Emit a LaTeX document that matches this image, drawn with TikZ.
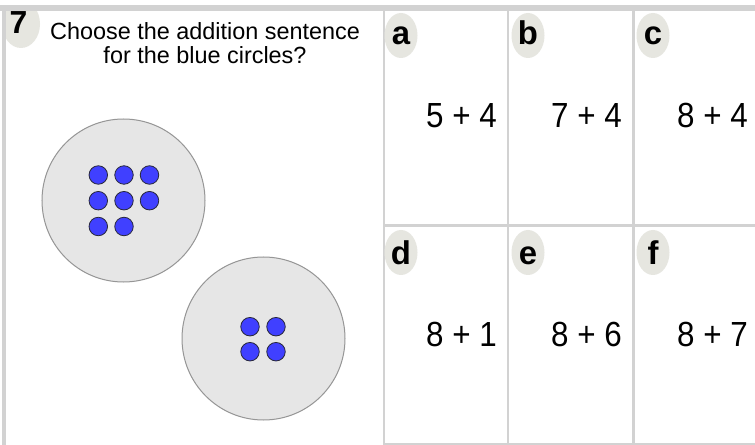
\documentclass[tikz,border=0pt]{standalone}
\usepackage{fontspec}
\setmainfont{Liberation Sans}
\usetikzlibrary{shapes.geometric}
\definecolor{bordergray}{RGB}{210,210,210}
\definecolor{badgecol}{RGB}{230,230,224}
\definecolor{platecol}{RGB}{230,230,230}
\definecolor{platerim}{RGB}{150,150,150}
\definecolor{dotblue}{RGB}{64,64,255}
\definecolor{dotrim}{RGB}{40,40,60}
\tikzset{
  cardline/.style={draw=bordergray, line width=2.5bp},
  badge/.style={ellipse, fill=badgecol, inner sep=0pt, minimum width=33bp, minimum height=45bp},
  lettertext/.style={anchor=base, inner sep=0pt, font=\fontsize{33}{35}\selectfont\bfseries},
  eqtext/.style={anchor=base east, inner sep=0pt, font=\fontsize{35}{38}\selectfont},
  qtext/.style={anchor=base, inner sep=0pt, font=\fontsize{23.5}{26}\selectfont},
  plate/.style={circle, fill=platecol, draw=platerim, line width=1bp, minimum size=163bp, inner sep=0pt},
  bluedot/.style={circle, fill=dotblue, draw=dotrim, line width=0.8bp, minimum size=18.5bp, inner sep=0pt}
}
\newcommand{\eqbox}[1]{\scalebox{0.9}[1]{#1}}
\begin{document}
\begin{tikzpicture}[x=1bp,y=-1bp]
\useasboundingbox (0,0) rectangle (755,445);
\fill[white] (0,0) rectangle (755,445);
% number badge, clipped by the panel frame
\begin{scope}
  \clip (6,11) rectangle (383,445);
  \fill[badgecol] (21,24) ellipse (19 and 24);
\end{scope}
% frame
\fill[bordergray] (0,5) rectangle (755,11);
\fill[bordergray] (2,5) rectangle (6,445);
% cards
\draw[cardline] (384,11) -- (384,445);
\draw[cardline] (508,11) -- (508,445);
\draw[cardline] (633.5,11) -- (633.5,445);
\draw[cardline] (384,225.5) -- (755,225.5);
\draw[cardline] (384,444) -- (755,444);
% number and question
\node[anchor=base, inner sep=0pt, font=\fontsize{32}{34}\selectfont\bfseries] (num) at (18.5,33.3) {7};
\node[qtext] (q1) at (205,39.5) {Choose the addition sentence};
\node[qtext] (q2) at (205,63.5) {for the blue circles?};
% plates
\node[plate] (p1) at (123.5,200.5) {};
\node[plate] (p2) at (263.5,338.5) {};
% dots on plate 1
\foreach \i/\x/\y in {1/98.3/175,2/124/175,3/149.5/175,4/98.3/200.7,5/124/200.7,6/149.5/200.7,7/98.3/226.5,8/124/226.5}
  \node[bluedot] (d1\i) at (\x,\y) {};
% dots on plate 2
\foreach \i/\x/\y in {1/250/326.7,2/276/326.7,3/250/351.7,4/276/351.7}
  \node[bluedot] (d2\i) at (\x,\y) {};
% badges
\node[badge] (ba) at (401,35.5) {};
\node[badge] (bb) at (528,35.5) {};
\node[badge] (bc) at (653,35.5) {};
\node[badge] (bd) at (401,252.5) {};
\node[badge] (be) at (528,252.5) {};
\node[badge] (bf) at (653,252.5) {};
\node[lettertext] (la) at (401,45) {a};
\node[lettertext] (lb) at (528,45) {b};
\node[lettertext] (lc) at (653,45) {c};
\node[lettertext] (ld) at (401,265) {d};
\node[lettertext] (le) at (528,265) {e};
\node[lettertext] (lf) at (653,265) {f};
% equations
\node[eqtext] (ea) at (497,128) {\eqbox{5 + 4}};
\node[eqtext] (eb) at (622,128) {\eqbox{7 + 4}};
\node[eqtext] (ec) at (748,128) {\eqbox{8 + 4}};
\node[eqtext] (ed) at (497,346.7) {\eqbox{8 + 1}};
\node[eqtext] (ee) at (622,346.7) {\eqbox{8 + 6}};
\node[eqtext] (ef) at (748,346.7) {\eqbox{8 + 7}};
\end{tikzpicture}
\end{document}
